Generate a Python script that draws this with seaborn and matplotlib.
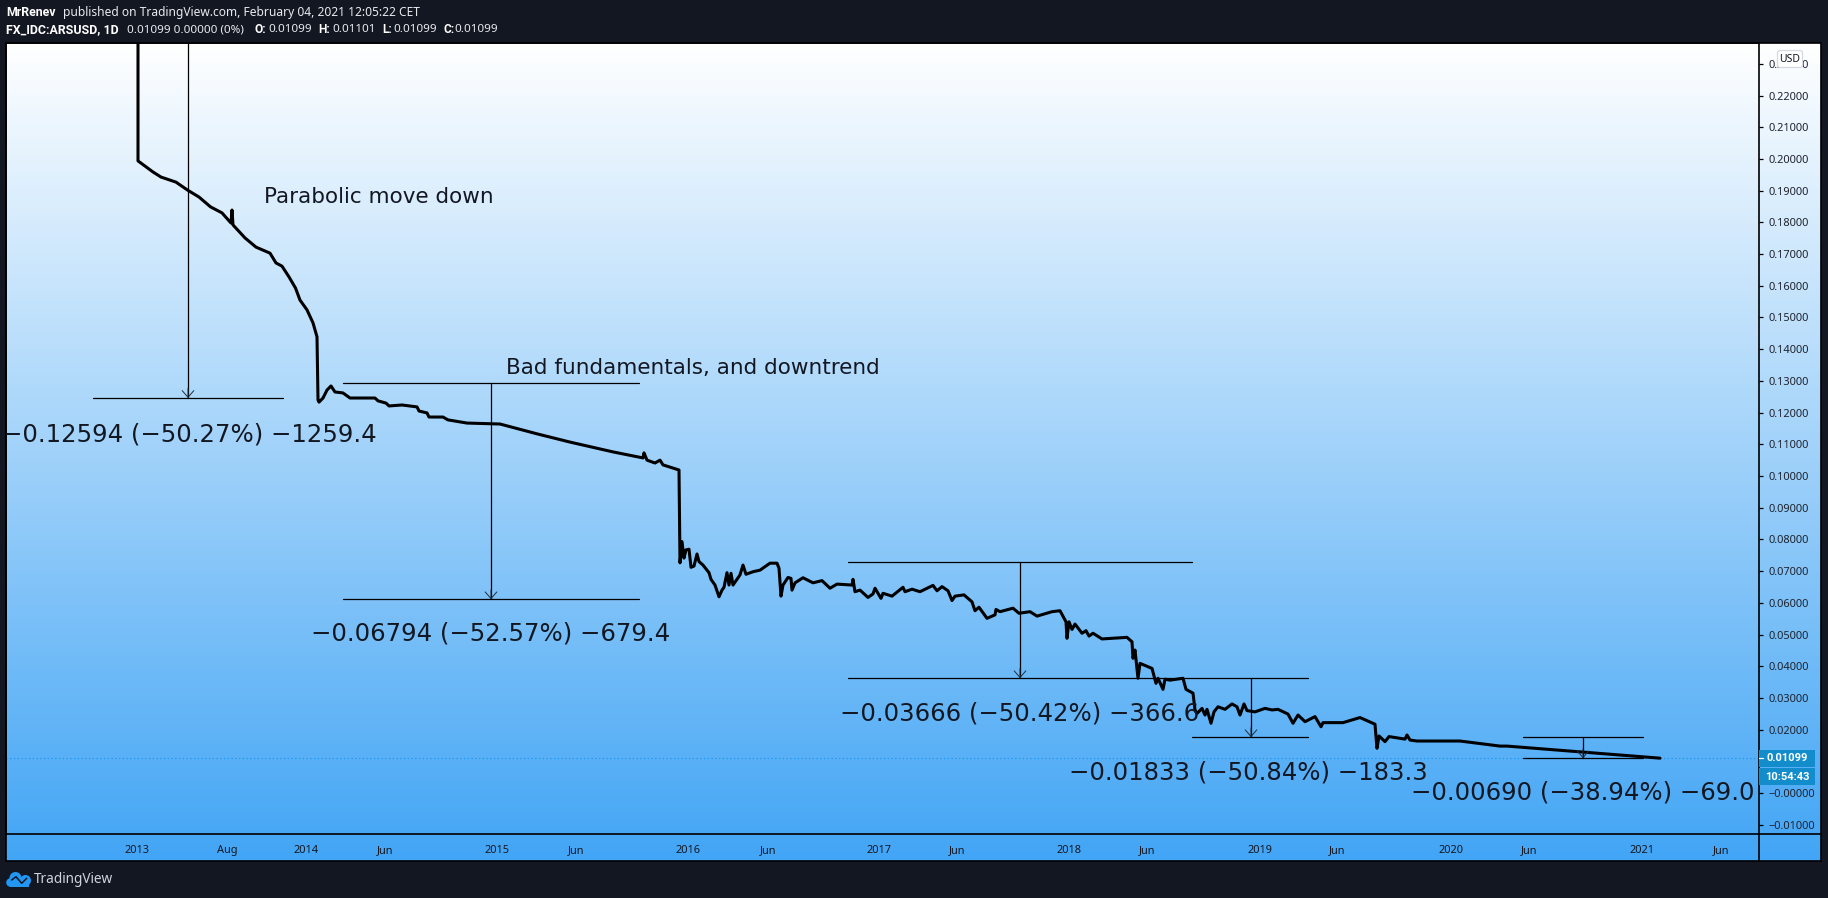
import numpy as np
import pandas as pd
import matplotlib.pyplot as plt
from matplotlib.colors import LinearSegmentedColormap
from matplotlib.patches import Rectangle, Circle, FancyBboxPatch
import seaborn as sns

W, H = 1828, 898

# session = bar position on the time axis, 2013 open is 0
session = [1, 1, 16, 24, 39, 50.5, 62, 73.5, 85, 94, 95, 96, 108, 119, 133, 139, 145, 152, 158.5, 163,
           170, 176, 180, 181, 182, 186, 190, 194, 198, 206, 213, 238, 241, 249, 252, 265, 280, 282, 290, 292,
           306, 311, 330, 363, 400, 433, 476, 506, 507, 510, 518, 523, 526, 542,
           543, 545, 547, 549, 552, 554, 557, 560, 562, 566, 572, 574, 578, 582, 585, 587, 590, 592, 594, 596,
           600, 603, 606, 609, 616, 623, 633, 640, 642, 644, 646, 651, 654, 655, 658, 666, 676, 685, 693, 700,
           715, 716, 718, 723, 731, 736, 738, 744, 746, 755, 766, 768, 775, 783, 796, 800, 805, 811, 815, 818,
           827, 835, 838, 842, 850, 858, 859, 863, 876, 882, 893, 900, 915, 923, 929, 930, 932, 935, 938, 945,
           949, 952, 956, 965, 990, 995, 996, 998, 1001, 1003, 1015, 1019, 1021, 1026, 1028, 1033, 1046, 1049, 1056, 1058,
           1060, 1065, 1068, 1070, 1074, 1077, 1081, 1088, 1095, 1100, 1103, 1107, 1110, 1118, 1128, 1135, 1141, 1151, 1156, 1161,
           1168, 1178, 1184, 1186, 1206, 1223, 1238, 1240, 1242, 1248, 1252,
           1268, 1270, 1273, 1280, 1323, 1363, 1370, 1446, 1523]
price = [.2505, .1994, .1959, .1943, .1927, .1902, .1880, .1849, .1830, .1798, .1839, .1792, .1751, .1722, .1703, .1672, .1662, .1628, .1593, .1555,
         .1524, .1483, .1439, .1240, .1233, .1246, .1271, .1284, .1265, .1262, .1246, .1246, .1237, .1230, .1221, .1224, .1218, .1205, .1199, .1186,
         .1186, .1177, .1167, .1164, .1133, .1107, .1076, .1057, .1073, .1050, .1041, .1050, .1035, .1019,
         .0726, .0793, .0741, .0767, .0769, .0712, .0716, .0754, .0730, .0719, .0695, .0674, .0656, .0619, .0640, .0649, .0695, .0656, .0693, .0656,
         .0674, .0688, .0719, .0690, .0698, .0703, .0725, .0725, .0709, .0621, .0656, .0680, .0677, .0640, .0663, .0679, .0663, .0670, .0646, .0659,
         .0656, .0674, .0635, .0640, .0617, .0628, .0646, .0614, .0630, .0621, .0649, .0635, .0643, .0635, .0655, .0638, .0651, .0638, .0607, .0621,
         .0625, .0603, .0575, .0586, .0551, .0562, .0579, .0572, .0583, .0567, .0572, .0558, .0572, .0575, .0540, .0488, .0540, .0516, .0533, .0504,
         .0512, .0495, .0504, .0486, .0491, .0477, .0425, .0451, .0362, .0409, .0393, .0346, .0362, .0327, .0359, .0356, .0362, .0327, .0315, .0262,
         .0251, .0267, .0246, .0264, .0220, .0256, .0272, .0264, .0281, .0272, .0246, .0281, .0260, .0256, .0267, .0262, .0264, .0249, .0220, .0246,
         .0225, .0241, .0209, .0222, .0222, .0238, .0217, .0141, .0180, .0162, .0178,
         .0170, .0183, .0167, .0164, .0164, .0148, .0148, .0129, .01099]

last_close = 0.01099

time_ticks = [0, 90, 169, 248, 360, 439, 551, 631, 742, 820, 932, 1010, 1123, 1200, 1314, 1392, 1505, 1584]
time_labels = ["2013", "Aug", "2014", "Jun", "2015", "Jun", "2016", "Jun", "2017", "Jun",
               "2018", "Jun", "2019", "Jun", "2020", "Jun", "2021", "Jun"]
price_ticks = [.23, .22, .21, .20, .19, .18, .17, .16, .15, .14, .13, .12, .11, .10, .09, .08, .07, .06,
               .05, .04, .03, .02, .01, 0, -.01]
price_labels = ["0.23000", "0.22000", "0.21000", "0.20000", "0.19000", "0.18000", "0.17000", "0.16000",
                "0.15000", "0.14000", "0.13000", "0.12000", "0.11000", "0.10000", "0.09000", "0.08000",
                "0.07000", "0.06000", "0.05000", "0.04000", "0.03000", "0.02000", "", "\u22120.00000", "\u22120.01000"]

# price range rulers
ruler_left = [-44, 206, 711, 1055, 1386]
ruler_mid = [51, 354, 883, 1114, 1446]
ruler_right = [146, 502, 1055, 1171, 1506]
ruler_top = [.2505, .1292, .0728, .0362, .0176]
ruler_bottom = [.1246, .0611, .0362, .0176, .01094]
ruler_text = ["\u22120.12594 (\u221250.27%) \u22121259.4", "\u22120.06794 (\u221252.57%) \u2212679.4",
              "\u22120.03666 (\u221250.42%) \u2212366.6", "\u22120.01833 (\u221250.84%) \u2212183.3",
              "\u22120.00690 (\u221238.94%) \u221269.0"]
text_session = [-135, 174, 703, 932, 1274]
text_price = [.1131, .0504, .0252, .0066, .0003]

notes = ["Parabolic move down", "Bad fundamentals, and downtrend"]
note_session = [127, 369]
note_price = [.1880, .1340]

DARK = "#131722"
INK = "#131722"
TAG = "#138ccb"

sns.set_theme(style="white")
plt.rcParams["font.family"] = ["Noto Sans", "DejaVu Sans"]

fig = plt.figure(figsize=(W / 100, H / 100), dpi=100, facecolor=DARK)

# gradient pane, everything in pixels here
bg = fig.add_axes([0, 0, 1, 1], zorder=0)
bg.axis("off")
grad = LinearSegmentedColormap.from_list("pane", ["#ffffff", "#42a5f5"])
bg.imshow(np.linspace(0, 1, 256).reshape(-1, 1), cmap=grad, aspect="auto", extent=(6, 1821, 861, 43), zorder=0)
bg.set_xlim(0, W)
bg.set_ylim(H, 0)
bg.add_patch(Rectangle((6, 43), 1815, 818, fill=False, ec="black", lw=1.2, zorder=2))
bg.plot([1759, 1759], [834, 861], color="black", lw=1.2, zorder=2)
bg.plot([1759, 1821], [834, 834], color="black", lw=1.2, zorder=2)

# chart pane
ax = fig.add_axes([6 / W, 1 - 834 / H, (1759 - 6) / W, (834 - 43) / H], zorder=1)
ax.patch.set_alpha(0)
df = pd.DataFrame({"session": session, "price": price})
ax.axhline(last_close, color="#2196f3", lw=0.9, ls=(0, (1, 2)), zorder=1)
sns.lineplot(data=df, x="session", y="price", sort=False, estimator=None, color="black", linewidth=2.2, ax=ax, zorder=3)

for left, mid, right, top, bottom in zip(ruler_left, ruler_mid, ruler_right, ruler_top, ruler_bottom):
    ax.plot([left, right], [top, top], color="black", lw=0.9, zorder=4)
    ax.plot([left, right], [bottom, bottom], color="black", lw=0.9, zorder=4)
    ax.plot([mid, mid], [top, bottom], color="black", lw=0.9, zorder=4)
    ax.annotate("", xy=(mid, bottom), xytext=(mid, bottom + 0.003),
                arrowprops=dict(arrowstyle="->,head_length=0.4,head_width=0.35", lw=0.7, shrinkA=0, shrinkB=0,
                                mutation_scale=12, color="#1f2d3d"), zorder=4)

for s, p, label in zip(text_session, text_price, ruler_text):
    ax.text(s, p, label, fontsize=17.6, color=INK, family="DejaVu Sans", va="center", ha="left", clip_on=True, zorder=5)
for s, p, label in zip(note_session, note_price, notes):
    ax.text(s, p, label, fontsize=15.5, color=INK, family="DejaVu Sans", va="center", ha="left", zorder=5)

ax.set_xlim(-131, 1622)
ax.set_ylim(-0.01293, 0.23659)
ax.set_xlabel("")
ax.set_ylabel("")
ax.set_xticks(time_ticks)
ax.set_xticklabels(time_labels, fontsize=7.9, color=INK)
ax.yaxis.tick_right()
ax.set_yticks(price_ticks)
ax.set_yticklabels(price_labels, fontsize=7.9, color="#1e222d")
ax.tick_params(axis="x", length=2.5, width=0.9, pad=5.5, color="black")
ax.tick_params(axis="y", length=3, width=0.9, pad=3.5, color="black")
for side in ax.spines:
    ax.spines[side].set_color("black")
    ax.spines[side].set_linewidth(1.2)
ax.grid(False)

# top layer: header, price tags, logo
top = fig.add_axes([0, 0, 1, 1], zorder=2)
top.patch.set_alpha(0)
top.set_xlim(0, W)
top.set_ylim(H, 0)
top.axis("off")

HEAD = "#e8eaf0"
BOLD = "Roboto"
top.text(6.5, 12.5, "MrRenev", fontsize=8.9, family=BOLD, fontweight="bold", color="white", va="center")
top.text(63, 12.5, "published on TradingView.com, February 04, 2021 12:05:22 CET", fontsize=8.65, color=HEAD, va="center")
top.text(6.5, 29.5, "FX_IDC:ARSUSD, 1D", fontsize=8.9, family=BOLD, fontweight="bold", color="white", va="center")
top.text(127, 29.5, "0.01099 0.00000 (0%)", fontsize=8.4, color=HEAD, va="center")
for x_key, key, x_val, val in [(254.5, "O:", 268, "0.01099"), (318.4, "H:", 332, "0.01101"),
                               (382, "L:", 393, "0.01099"), (443, "C:", 454.6, "0.01099")]:
    top.text(x_key, 29.5, key, fontsize=8.6, family=BOLD, fontweight="bold", color="white", va="center")
    top.text(x_val, 29.5, val, fontsize=8.4, color=HEAD, va="center")

# covers the 0.23000 label the way the reference does
top.add_patch(FancyBboxPatch((1778, 51), 24, 16, boxstyle="round,pad=0.5,rounding_size=2.5", fc="white", ec="#d6d9e0", lw=0.9))
top.text(1790, 59, "USD", fontsize=7.5, color=INK, ha="center", va="center")

top.add_patch(Rectangle((1759, 750), 56, 17, fc=TAG, ec="none"))
top.add_patch(Rectangle((1759, 768), 56, 17, fc=TAG, ec="none"))
top.plot([1759, 1763], [758.3, 758.3], color="white", lw=0.9)
top.text(1787.5, 758.3, "0.01099", fontsize=8, family=BOLD, fontweight="bold", color="white", ha="center", va="center")
top.text(1787, 776.5, "10:54:43", fontsize=8, family=BOLD, fontweight="bold", color="white", ha="center", va="center")

# logo
for cx, cy, r in [(15.5, 878, 6), (25.5, 880.5, 5.5), (10.5, 882.5, 4.3)]:
    top.add_patch(Circle((cx, cy), r, fc="#2196f3", ec="none"))
top.add_patch(Rectangle((10, 880), 19, 7, fc="#2196f3", ec="none"))
top.plot([11.7, 16, 21.7, 26.7], [880, 876.7, 883.3, 878.3], color=DARK, lw=1.1)
top.text(34, 879.5, "TradingView", fontsize=9.8, color="#d1d4dc", va="center")

fig.savefig("out.png", dpi=100, facecolor=DARK)
